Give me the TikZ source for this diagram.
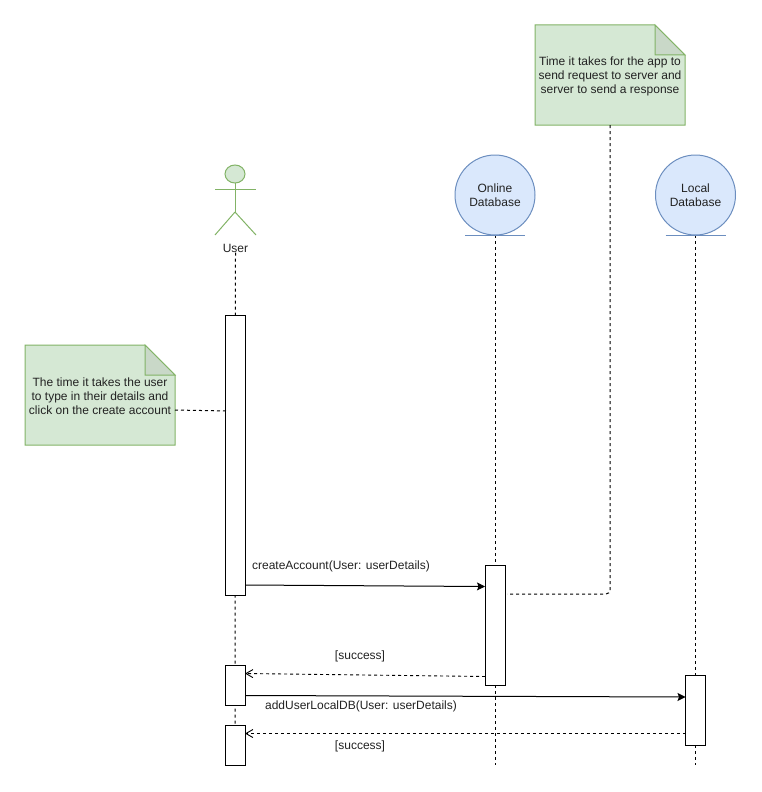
\documentclass[tikz,border=0pt]{standalone}
\usepackage{fontspec}
\setmainfont{Liberation Sans}
\usetikzlibrary{arrows.meta,backgrounds,shapes.geometric}
\definecolor{notegreen}{HTML}{D5E8D4}
\definecolor{notefold}{HTML}{C9D8C8}
\definecolor{edgegreen}{HTML}{82B366}
\definecolor{dbblue}{HTML}{DAE8FC}
\definecolor{edgeblue}{HTML}{6C8EBF}
\definecolor{inkgray}{HTML}{222222}
\newcommand{\notestrut}{\rule{0pt}{11pt}}
\tikzset{
  every node/.style={font=\fontsize{12}{14}\selectfont, text=inkgray, outer sep=0pt, inner sep=0pt},
  notebox/.style={minimum width=150pt, minimum height=100pt, align=center},
  dbnode/.style={circle, draw=edgeblue, fill=dbblue, line width=1pt, minimum size=80pt, align=center},
  activebox/.style={draw=black, fill=white, line width=1pt, minimum width=20pt},
  lifeline/.style={line width=1pt, dash pattern=on 3pt off 3pt},
  callarrow/.style={line width=1pt, -{Stealth[length=8pt,width=8pt,inset=1.5pt]}},
  backarrow/.style={line width=.9pt, dash pattern=on 3pt off 3pt, -{Straight Barb[length=7pt,width=8pt]}},
  actorline/.style={draw=edgegreen, line width=1pt}
}
\begin{document}
\begin{tikzpicture}[x=1pt, y=-1pt]
    \useasboundingbox (0,0) rectangle (761,792);

    \node (noteServer) [notebox] at (610,75) {\notestrut Time it takes for the app to\\send request to server and\\server to send a response};
    \node (noteUser) [notebox] at (100,395) {\notestrut The time it takes the user\\to type in their details and\\click on the create account};

    \node (userHead) [ellipse, actorline, fill=notegreen, minimum width=20pt, minimum height=18pt] at (235,174) {};
    \node (userLabel) at (235.5,248.5) {User};
    \node (onlineDb) [dbnode] at (495,195) {Online\\Database};
    \node (localDb) [dbnode] at (695.5,195) {Local\\Database};

    \node (userBoxA) [activebox, minimum height=280pt] at (235,455) {};
    \node (userBoxB) [activebox, minimum height=40pt] at (235,685) {};
    \node (userBoxC) [activebox, minimum height=40pt] at (235,745) {};
    \node (onlineBox) [activebox, minimum height=120pt] at (495,625) {};
    \node (localBox) [activebox, minimum height=70pt] at (695.5,710) {};

    \coordinate (onlineEnd) at (495,765);
    \coordinate (localEnd) at (695.5,765);
    \coordinate (bendServer) at (610,594);
    \coordinate (actorHip) at (235,212);

    % notes, lifelines
    \begin{pgfonlayer}{background}
        \foreach \notename in {noteServer,noteUser} {
            \draw[actorline, fill=notegreen] (\notename.north west) -- ([xshift=-30pt]\notename.north east) -- ([yshift=-30pt]\notename.north east) -- (\notename.south east) -- (\notename.south west) -- cycle;
            \draw[actorline, fill=notefold] ([xshift=-30pt]\notename.north east) -- ([xshift=-30pt,yshift=-30pt]\notename.north east) -- ([yshift=-30pt]\notename.north east) -- cycle;
        }
        \draw[lifeline] (userLabel.south) -- (userBoxC.north);
        \draw[lifeline] (onlineDb.south) -- (onlineEnd);
        \draw[lifeline] (localDb.south) -- (localEnd);
    \end{pgfonlayer}

    % actor
    \draw[actorline] (userHead.south) -- (actorHip);
    \draw[actorline] ([xshift=-20pt,yshift=-6pt]userHead.south) -- ([xshift=21pt,yshift=-6pt]userHead.south);
    \draw[actorline] (actorHip) -- ([xshift=-20pt,yshift=-23pt]actorHip);
    \draw[actorline] (actorHip) -- ([xshift=21pt,yshift=-23pt]actorHip);

    % database base lines
    \draw[line width=1pt, draw=edgeblue] ([xshift=-30pt]onlineDb.south) -- ([xshift=30pt]onlineDb.south);
    \draw[line width=1pt, draw=edgeblue] ([xshift=-30pt]localDb.south) -- ([xshift=30pt]localDb.south);

    % note links
    \draw[lifeline] ([yshift=-15pt]noteUser.east) -- ([xshift=2pt,yshift=-16pt]noteUser.east -| userBoxA.west);
    \draw[lifeline, rounded corners=4pt] (noteServer.south) -- (bendServer) -- ([xshift=2pt,yshift=-29pt]onlineBox.north east);

    % messages
    \draw[callarrow] ([yshift=10pt]userBoxA.south east) -- ([yshift=-21.5pt]onlineBox.north west);
    \draw[backarrow] ([yshift=8.5pt]onlineBox.south west) -- ([yshift=-8.5pt]userBoxB.north east);
    \draw[callarrow] ([yshift=9.5pt]userBoxB.south east) -- ([yshift=-22pt]localBox.north west);
    \draw[backarrow] ([yshift=11.5pt]localBox.south west) -- ([yshift=-8.5pt]userBoxC.north east);

    \node (createLabel) at (341,566) {createAccount(User: userDetails)};
    \node (successOnline) at (360,656) {[success]};
    \node (addLabel) at (361,706) {addUserLocalDB(User: userDetails)};
    \node (successLocal) at (360,746) {[success]};
\end{tikzpicture}
\end{document}
